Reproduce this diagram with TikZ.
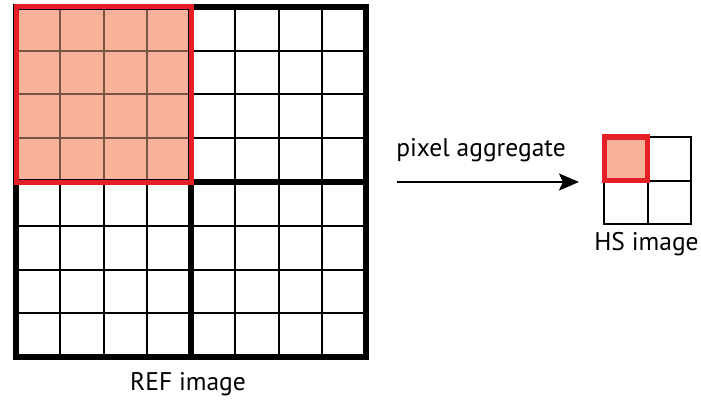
\documentclass[tikz,border=0pt]{standalone}
\usepackage{fontspec}
\setmainfont{PT Sans}
\usetikzlibrary{arrows.meta}
\definecolor{salmon}{RGB}{248,178,153}
\definecolor{redline}{RGB}{228,32,38}
\definecolor{brownline}{RGB}{122,84,66}
\tikzset{
  thinline/.style={line width=2pt, black},
  thickline/.style={line width=6pt, black, line cap=rect},
  redbox/.style={line width=5pt, redline, line join=miter},
  lbl/.style={font=\fontsize{25.5}{30}\selectfont, anchor=base, inner sep=0pt},
}
\begin{document}
\begin{tikzpicture}[x=1pt,y=-1pt]
\useasboundingbox (0,0) rectangle (701,401);
\fill[white] (0,0) rectangle (701,401);
% big grid
\def\cx{43.75}
\fill[salmon] (16,7) rectangle (191,182);
\foreach \i in {1,2,3,5,6,7} {
  \draw[thinline] (16+\i*\cx,7) -- (16+\i*\cx,357);
  \draw[thinline] (16,7+\i*\cx) -- (366,7+\i*\cx);
}
\foreach \i in {1,2,3} {
  \draw[line width=2pt, brownline] (16+\i*\cx,7) -- (16+\i*\cx,182);
  \draw[line width=2pt, brownline] (16,7+\i*\cx) -- (191,7+\i*\cx);
}
\draw[thickline] (16,7) rectangle (366,357);
\draw[thickline] (191,7) -- (191,357);
\draw[thickline] (16,182) -- (366,182);
\draw[redbox] (16,7) rectangle (191,182);
\node[lbl] (ref) at (188,390) {REF image};
% arrow
\coordinate (a0) at (397,182);
\coordinate (a1) at (579,182);
\draw[line width=2pt, -{Stealth[length=20pt,width=17pt,inset=4pt]}] (a0) -- (a1);
\node[lbl] (pa) at (481,157) {pixel aggregate};
% small grid
\fill[salmon] (604,137) rectangle (647.5,180.5);
\draw[thinline] (604,137) rectangle (691,224);
\draw[thinline] (647.5,137) -- (647.5,224);
\draw[thinline] (604,180.5) -- (691,180.5);
\draw[redbox] (604,137) rectangle (647.5,180.5);
\node[lbl] (hs) at (646.5,250) {HS image};
\end{tikzpicture}
\end{document}
